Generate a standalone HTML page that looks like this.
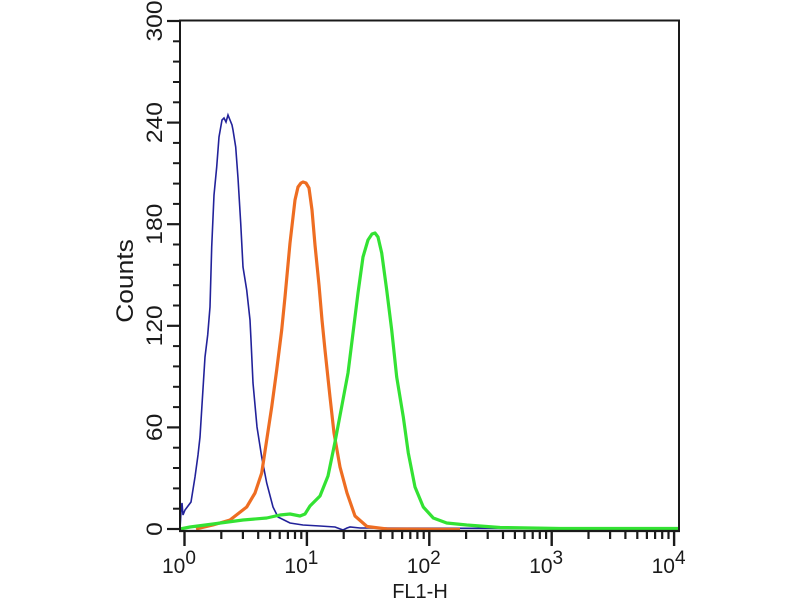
<!DOCTYPE html>
<html>
<head>
<meta charset="utf-8">
<style>
html,body{margin:0;padding:0;background:#fff;}
svg{display:block;}
text{font-family:"Liberation Sans",Arial,sans-serif;fill:#1a1a1a;}
</style>
</head>
<body>
<svg width="800" height="600" viewBox="0 0 800 600" xmlns="http://www.w3.org/2000/svg">
<rect width="800" height="600" fill="#fff"/>

<!-- curves -->
<polyline fill="none" stroke="#22229a" stroke-width="1.6" stroke-linejoin="miter" points="
180,529 181,512 182,503 183,515 185,510 188,506 191,502 195,477 198,455 200,437 202.3,400 205,357 207.7,335 210,307 211.7,247 214,195 216.7,167 219,137 222,120 224,118 226,122 228,115 230,120 232,125 233,130 235.7,147 238,178 240.7,223 243,267 246.7,290 250,320 251,340 253,383 257,427 261.7,457 266.7,483 273,507 278,517 290,523 303,525 320,526 335,527 343,530 347,528 350,527 360,528 680,529"/>

<polyline fill="none" stroke="#ee6d22" stroke-width="3.2" stroke-linejoin="round" points="
196,529 213,525 230,520 246.7,507 255,493 261.7,473 266.7,440 271.7,407 276.7,370 281.7,330 285,297 290,243 295,200 298,187 301,183 303,182 306,183 309,188 312,210 315,245 319,285 322,320 325,350 330,397 334,433 340,467 347,493 355,516 367,526.5 387,529 460,529.5"/>

<polyline fill="none" stroke="#33e233" stroke-width="3.2" stroke-linejoin="round" points="
180,529 190,527 213,524 243,520 266.7,518 280,515 290,514 300,516 305,514 310,506 320,496 328,476 335,442 342,405 348,373 353,333 358,293 363,257 368,240 372,234 375,233 378,237 381.7,253 386.7,290 391.7,330 396.7,377 403.3,417 408.3,453 415,487 423.3,507 433.3,518 446.7,523 466.7,525 500,527.5 560,528.5 679,528.5"/>

<!-- frame -->
<g stroke="#1a1a1a" fill="none">
<polyline points="180,531 180,20.5 679,20.5 679,531" stroke-width="2"/>
<line x1="179" y1="531" x2="680" y2="531" stroke-width="2.2"/>
</g>

<!-- y ticks -->
<g stroke="#1a1a1a" stroke-width="2.2">
<line x1="167" y1="529" x2="180" y2="529"/>
<line x1="167" y1="427.4" x2="180" y2="427.4"/>
<line x1="167" y1="325.8" x2="180" y2="325.8"/>
<line x1="167" y1="224.2" x2="180" y2="224.2"/>
<line x1="167" y1="122.6" x2="180" y2="122.6"/>
<line x1="167" y1="21" x2="180" y2="21"/>
</g>
<g stroke="#1a1a1a" stroke-width="2">
<line x1="173" y1="508.7" x2="180" y2="508.7"/><line x1="173" y1="488.4" x2="180" y2="488.4"/><line x1="173" y1="468" x2="180" y2="468"/><line x1="173" y1="447.7" x2="180" y2="447.7"/>
<line x1="173" y1="407.1" x2="180" y2="407.1"/><line x1="173" y1="386.8" x2="180" y2="386.8"/><line x1="173" y1="366.4" x2="180" y2="366.4"/><line x1="173" y1="346.1" x2="180" y2="346.1"/>
<line x1="173" y1="305.5" x2="180" y2="305.5"/><line x1="173" y1="285.2" x2="180" y2="285.2"/><line x1="173" y1="264.8" x2="180" y2="264.8"/><line x1="173" y1="244.5" x2="180" y2="244.5"/>
<line x1="173" y1="203.9" x2="180" y2="203.9"/><line x1="173" y1="183.6" x2="180" y2="183.6"/><line x1="173" y1="163.2" x2="180" y2="163.2"/><line x1="173" y1="142.9" x2="180" y2="142.9"/>
<line x1="173" y1="102.3" x2="180" y2="102.3"/><line x1="173" y1="82" x2="180" y2="82"/><line x1="173" y1="61.6" x2="180" y2="61.6"/><line x1="173" y1="41.3" x2="180" y2="41.3"/>
</g>

<!-- x ticks -->
<g stroke="#1a1a1a" stroke-width="2.4">
<line x1="184.5" y1="531" x2="184.5" y2="546"/>
<line x1="306.9" y1="531" x2="306.9" y2="546"/>
<line x1="429.3" y1="531" x2="429.3" y2="546"/>
<line x1="551.7" y1="531" x2="551.7" y2="546"/>
<line x1="674.1" y1="531" x2="674.1" y2="546"/>
</g>
<g stroke="#1a1a1a" stroke-width="2.2" id="minor">
<!-- decade 0 -->
<line x1="221.3" y1="531" x2="221.3" y2="539"/><line x1="242.9" y1="531" x2="242.9" y2="539"/><line x1="258.2" y1="531" x2="258.2" y2="539"/><line x1="270.1" y1="531" x2="270.1" y2="539"/><line x1="279.7" y1="531" x2="279.7" y2="539"/><line x1="287.9" y1="531" x2="287.9" y2="539"/><line x1="295" y1="531" x2="295" y2="539"/><line x1="301.3" y1="531" x2="301.3" y2="539"/>
<!-- decade 1 -->
<line x1="343.7" y1="531" x2="343.7" y2="539"/><line x1="365.3" y1="531" x2="365.3" y2="539"/><line x1="380.6" y1="531" x2="380.6" y2="539"/><line x1="392.5" y1="531" x2="392.5" y2="539"/><line x1="402.1" y1="531" x2="402.1" y2="539"/><line x1="410.3" y1="531" x2="410.3" y2="539"/><line x1="417.4" y1="531" x2="417.4" y2="539"/><line x1="423.7" y1="531" x2="423.7" y2="539"/>
<!-- decade 2 -->
<line x1="466.1" y1="531" x2="466.1" y2="539"/><line x1="487.7" y1="531" x2="487.7" y2="539"/><line x1="503" y1="531" x2="503" y2="539"/><line x1="514.9" y1="531" x2="514.9" y2="539"/><line x1="524.5" y1="531" x2="524.5" y2="539"/><line x1="532.7" y1="531" x2="532.7" y2="539"/><line x1="539.8" y1="531" x2="539.8" y2="539"/><line x1="546.1" y1="531" x2="546.1" y2="539"/>
<!-- decade 3 -->
<line x1="588.5" y1="531" x2="588.5" y2="539"/><line x1="610.1" y1="531" x2="610.1" y2="539"/><line x1="625.4" y1="531" x2="625.4" y2="539"/><line x1="637.3" y1="531" x2="637.3" y2="539"/><line x1="646.9" y1="531" x2="646.9" y2="539"/><line x1="655.1" y1="531" x2="655.1" y2="539"/><line x1="662.2" y1="531" x2="662.2" y2="539"/><line x1="668.5" y1="531" x2="668.5" y2="539"/>
</g>

<!-- y tick labels (rotated) -->
<g font-size="22" text-anchor="middle">
<text transform="translate(162,529) rotate(-90) scale(1.12,1)">0</text>
<text transform="translate(162,427.4) rotate(-90) scale(1.12,1)">60</text>
<text transform="translate(162,325.8) rotate(-90) scale(1.12,1)">120</text>
<text transform="translate(162,224.2) rotate(-90) scale(1.12,1)">180</text>
<text transform="translate(162,122.6) rotate(-90) scale(1.12,1)">240</text>
<text transform="translate(162,21) rotate(-90) scale(1.12,1)">300</text>
</g>
<text font-size="24" text-anchor="middle" transform="translate(133,281) rotate(-90) scale(1.1,1)">Counts</text>

<!-- x tick labels -->
<g font-size="21">
<text x="162" y="573">10<tspan font-size="19" dy="-9">0</tspan></text>
<text x="284.4" y="573">10<tspan font-size="19" dy="-9">1</tspan></text>
<text x="406.8" y="573">10<tspan font-size="19" dy="-9">2</tspan></text>
<text x="529.2" y="573">10<tspan font-size="19" dy="-9">3</tspan></text>
<text x="651.6" y="573">10<tspan font-size="19" dy="-9">4</tspan></text>
</g>
<text x="420" y="598" font-size="20" text-anchor="middle">FL1-H</text>
</svg>
</body>
</html>
